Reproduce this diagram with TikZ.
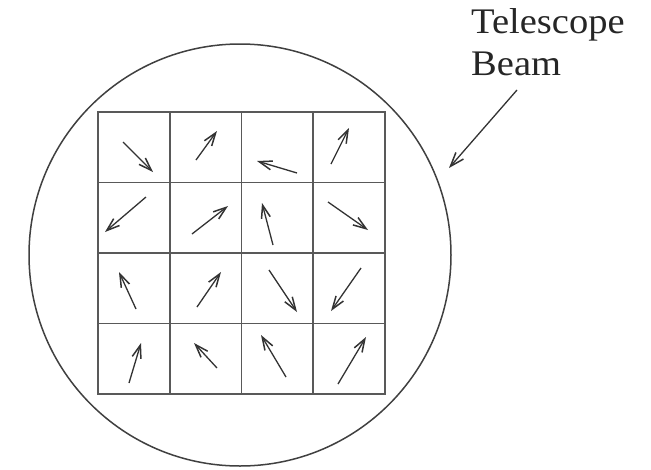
\documentclass[tikz,border=0pt]{standalone}
\usepackage{fontspec}
\newfontfamily\beamfont{Liberation Serif}[FakeStretch=1.07]
\usetikzlibrary{arrows.meta,positioning}
\tikzset{
  beam/.style={circle,draw=black!75,line width=1.5pt,minimum size=422pt,inner sep=0pt},
  cell/.style={draw=black!65,line width=1.6pt,minimum width=71.75pt,
    minimum height=70.5pt,inner sep=0pt},
  vec/.style={-{Straight Barb[length=13pt,width=9pt,line width=1.5pt]},line width=1.3pt,draw=black!80},
  pointer/.style={-{Straight Barb[length=14pt,width=10pt,line width=1.5pt]},line width=1.3pt,draw=black!80},
  caption/.style={font=\beamfont\fontsize{36}{42}\selectfont,align=left,inner sep=0pt,text=black!85}
}

\begin{document}
\begin{tikzpicture}[x=1pt,y=-1pt]
  \useasboundingbox (0,0) rectangle (651,469);
  \node[beam] (beam) at (240,255) {};
  % 4x4 pixel grid
  \foreach \r in {1,...,4}
    \foreach \c in {1,...,4}
      \node[cell] (cell-\r-\c) at ({98+71.75*(\c-0.5)},{112+70.5*(\r-0.5)}) {};
  % polarisation vectors (tail x/y, head x/y)
  \foreach \tx/\ty/\hx/\hy in {123/142/153/172, 196/160/217/131, 297/173/257/161, 331/164/349/128,
      146/197/105/232, 192/234/228/206, 273/245/262/203, 328/202/368/230,
      136/309/119/272, 197/307/221/272, 269/270/297/312, 361/268/331/311,
      129/383/141/343, 217/368/194/343, 286/377/261/335, 338/384/366/337}
    \draw[vec] (\tx,\ty) -- (\hx,\hy);
  \node[caption,anchor=north west] (caption) at (471,8.5) {Telescope\\Beam};
  \coordinate (tail) at (517,90);
  \coordinate (tip) at (449,168);
  \draw[pointer] (tail) -- (tip);
\end{tikzpicture}
\end{document}
